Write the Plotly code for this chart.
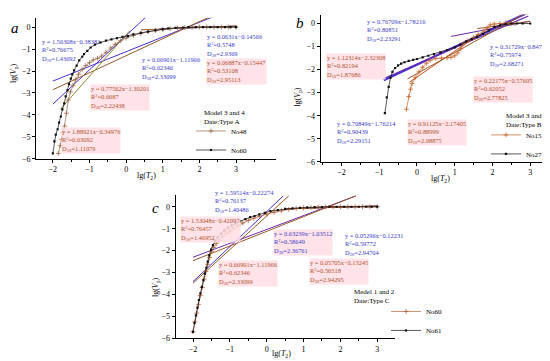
import plotly.graph_objects as go
import numpy as np

W, H = 550, 361
FONT = "Liberation Serif"
BLUE_T = "#3c3cc8"
BROWN_T = "#b0502e"
BLUE_L = "#4b2fd0"
PURPLE_L = "#6a2bb0"
BROWN_L = "#9a5a2a"
PINK_BG = "rgba(255,222,228,0.85)"
LBL_SIZE = 6.4

# ---------------- Panel a data ----------------
a_no60_x = [-2.0, -1.96, -1.92, -1.87, -1.83, -1.78, -1.74, -1.69, -1.65, -1.6, -1.56, -1.51, -1.47, -1.42, -1.35,
            -1.28, -1.2, -1.15, -1.06, -0.97, -0.85, -0.7, -0.55, -0.4, -0.25, -0.1, 0.05, 0.2, 0.4, 0.6, 0.8,
            1.0, 1.15, 1.35, 1.55, 1.7, 1.9, 2.1, 2.3, 2.5, 2.7, 2.85, 3.0]
a_no60_y = [-5.75, -5.2, -4.9, -4.65, -4.35, -4.07, -3.75, -3.47, -3.15, -2.87, -2.6, -2.35, -2.15, -1.97, -1.75,
            -1.52, -1.35, -1.23, -1.08, -0.93, -0.8, -0.7, -0.62, -0.56, -0.5, -0.45, -0.41, -0.33, -0.26, -0.21, -0.15,
            -0.1, -0.06, -0.04, -0.02, 0.0, 0.0, 0.0, 0.0, 0.0, 0.0, 0.0, 0.0]
a_no48_x = [-1.85, -1.8, -1.76, -1.72, -1.68, -1.63, -1.58, -1.52, -1.45, -1.38, -1.3, -1.2, -1.1, -1.0, -0.9,
            -0.78, -0.67, -0.55, -0.42, -0.3, -0.15, 0.0, 0.2, 0.4, 0.6, 0.8, 1.0, 1.2, 1.4, 1.6, 1.8, 2.0,
            2.2, 2.4, 2.6, 2.8, 3.0]
a_no48_y = [-5.75, -5.4, -5.11, -4.8, -4.51, -3.92, -3.32, -2.95, -2.65, -2.4, -2.15, -1.92, -1.75, -1.62, -1.5,
            -1.42, -1.32, -1.15, -0.95, -0.78, -0.62, -0.5, -0.38, -0.29, -0.21, -0.15, -0.1, -0.07, -0.04, -0.02, 0.0, 0.0,
            0.0, 0.0, 0.0, 0.0, 0.0]

# fits: (slope, intercept, x_start, x_end, colour)
a_fits = [
    (1.56308, -0.38381, -2.0, 0.6, BLUE_L),
    (0.66901, -1.11966, -2.0, 2.42, BLUE_L),
    (0.0631, -0.14566, 0.9, 3.0, BLUE_L),
    (0.77562, -1.30201, -2.0, 2.25, BROWN_L),
    (1.88921, -0.34976, -1.8, 0.1, "#8a8a3a"),
    (0.06887, -0.15447, 0.4, 3.0, BROWN_L),
]
a_labels = [
    ("y = 1.56308x−0.38381", "0.76675", "1S", "1.43692", BLUE_T, None, 33, 29),
    ("y = 0.0631x−0.14566", "0.5748", "2S", "2.9369", BLUE_T, None, 198, 24),
    ("y = 0.66901x−1.11966", "0.62346", "3S", "2.33099", BLUE_T, None, 133, 48),
    ("y = 0.06887x−0.15447", "0.53108", "2S", "2.95113", BROWN_T, PINK_BG, 198, 51),
    ("y = 0.77562x−1.30201", "0.6687", "3S", "2.22438", BROWN_T, PINK_BG, 82, 77),
    ("y = 1.88921x−0.34976", "0.63092", "1S", "1.11079", BROWN_T, PINK_BG, 53, 121),
]

# ---------------- Panel b data ----------------
b_no27_x = [-0.85, -0.8, -0.75, -0.7, -0.65, -0.58, -0.5, -0.42, -0.33, -0.22, -0.1, 0.0, 0.15, 0.3, 0.45, 0.62,
            0.8, 1.0, 1.15, 1.3, 1.45, 1.6, 1.75, 1.9, 2.05, 2.2, 2.35, 2.5, 2.65, 2.8, 3.0]
b_no27_y = [-3.89, -3.2, -2.75, -2.35, -2.1, -1.93, -1.82, -1.74, -1.68, -1.62, -1.58, -1.54, -1.47, -1.4, -1.33, -1.25,
            -1.15, -1.04, -0.92, -0.78, -0.68, -0.58, -0.45, -0.3, -0.15, -0.08, -0.03, 0.0, 0.0, 0.0, 0.0]
b_no15_x = [-0.28, -0.22, -0.17, -0.13, -0.05, 0.05, 0.15, 0.25, 0.35, 0.5, 0.65, 0.8, 0.9, 1.0, 1.08, 1.16,
            1.24, 1.35, 1.5, 1.62, 1.77, 1.86, 1.94, 2.05, 2.2, 2.35, 2.5, 2.6]
b_no15_y = [-3.72, -3.17, -2.85, -2.6, -2.35, -2.1, -1.9, -1.72, -1.6, -1.52, -1.5, -1.49, -1.47, -1.4, -1.28, -1.1,
            -0.87, -0.75, -0.61, -0.48, -0.33, -0.2, -0.06, -0.02, 0.0, 0.03, 0.02, 0.0]
b_fits = [
    (0.76709, -1.78216, -0.88, 2.95, BLUE_L, 2.2),
    (0.70849, -1.76214, -0.88, 2.95, PURPLE_L, 1.2),
    (0.31729, -0.8476, 0.9, 3.0, PURPLE_L, 1.0),
    (1.12314, -2.32308, -0.2, 1.5, "#c0501f", 1.0),
    (0.91125, -2.17405, -0.25, 2.95, BROWN_L, 1.0),
    (0.22175, -0.57605, 1.6, 3.0, BROWN_L, 1.0),
]
b_labels = [
    ("y = 0.76709x−1.78216", "0.80851", "1S", "2.23291", BLUE_T, None, 358, 9),
    ("y = 1.12314x−2.32308", "0.82194", "1S", "1.87686", BROWN_T, PINK_BG, 318, 46),
    ("y = 0.31729x−0.8476", "0.75974", "2S", "2.68271", BLUE_T, None, 481, 34),
    ("y = 0.22175x−0.57605", "0.62052", "2S", "2.77825", BROWN_T, PINK_BG, 465, 69),
    ("y = 0.70849x−1.76214", "0.90439", "1S", "2.29151", BLUE_T, None, 328, 113),
    ("y = 0.91125x−2.17405", "0.88999", "1S", "2.08875", BROWN_T, PINK_BG, 399, 113),
]

# ---------------- Panel c data ----------------
c_no61_x = [-2.0, -1.96, -1.92, -1.88, -1.84, -1.8, -1.76, -1.72, -1.68, -1.64, -1.6, -1.56, -1.51, -1.46, -1.4,
            -1.33, -1.24, -1.15, -1.05, -0.95, -0.85, -0.72, -0.58, -0.45, -0.33, -0.2, -0.05, 0.1, 0.3, 0.5, 0.7,
            0.9, 1.1, 1.3, 1.5, 1.7, 1.9, 2.1, 2.3, 2.5, 2.7, 2.85, 3.0]
c_no61_y = [-5.7, -5.3, -4.95, -4.6, -4.25, -3.95, -3.65, -3.35, -3.05, -2.78, -2.5, -2.22, -1.95, -1.75, -1.55,
            -1.38, -1.22, -1.08, -0.95, -0.85, -0.76, -0.66, -0.56, -0.47, -0.42, -0.35, -0.28, -0.2, -0.15, -0.1, -0.07,
            -0.05, -0.03, -0.02, -0.01, 0.0, 0.0, 0.0, 0.0, 0.0, 0.0, 0.0, 0.0]
c_no60_x = [-2.0, -1.95, -1.9, -1.85, -1.8, -1.75, -1.7, -1.65, -1.6, -1.55, -1.5, -1.44, -1.37, -1.3, -1.2,
            -1.1, -1.0, -0.9, -0.78, -0.65, -0.5, -0.35, -0.2, 0.0, 0.2, 0.4, 0.6, 0.8, 1.0, 1.2, 1.4, 1.6,
            1.8, 2.0, 2.2, 2.4, 2.6, 2.8, 3.0]
c_no60_y = [-5.7, -5.25, -4.85, -4.45, -4.05, -3.68, -3.3, -2.95, -2.62, -2.32, -2.05, -1.85, -1.68, -1.52, -1.36,
            -1.22, -1.1, -0.98, -0.86, -0.74, -0.62, -0.52, -0.43, -0.34, -0.25, -0.18, -0.12, -0.08, -0.05, -0.03, -0.02, -0.01,
            0.0, 0.0, 0.0, 0.0, 0.0, 0.0, 0.0]
c_fits = [
    (1.59514, -0.22274, -2.0, 0.45, BLUE_L),
    (1.53048, -0.42097, -2.0, 0.6, BROWN_L),
    (0.63239, -1.03512, -2.0, 2.42, PURPLE_L),
    (0.66901, -1.11966, -2.0, 2.42, BROWN_L),
    (0.05296, -0.12231, 0.5, 3.0, PURPLE_L),
    (0.05705, -0.13245, 0.5, 3.0, BROWN_L),
]
c_labels = [
    ("y = 1.59514x−0.22274", "0.76137", "1S", "1.40486", BLUE_T, None, 206, 183),
    ("y = 1.53048x−0.42097", "0.76457", "1S", "1.46952", BROWN_T, PINK_BG, 172, 211),
    ("y = 0.63239x−1.03512", "0.58649", "3S", "2.36761", BLUE_T, PINK_BG, 265, 224),
    ("y = 0.05296x−0.12231", "0.59772", "2S", "2.94704", BLUE_T, None, 336, 226),
    ("y = 0.66901x−1.11966", "0.62346", "3S", "2.33099", BROWN_T, PINK_BG, 210, 256),
    ("y = 0.05705x−0.13245", "0.56518", "2S", "2.94295", BROWN_T, PINK_BG, 301, 254),
]

x_ticks = [-2, -1, 0, 1, 2, 3]
y_ticks = [-6, -5, -4, -3, -2, -1, 0]

panels = [
    dict(xa="x", ya="y", dom_x=(28, 268), dom_y=(10, 153), xr=[-2.46, 4.09], yr=[-6, 0.42],
         letter="a", letter_pos=(7, 20), ytitle_pos=(6, 66), xtitle_pos=(138, 170), legend="legend",
         legend_title="Model 3 and 4<br>Date:Type A", title_pos=(195, 101), legend_pos=(183, 110),
         series=[("No48", a_no48_x, a_no48_y, "#9a6a4a", "cross-thin", 3.5), ("No60", a_no60_x, a_no60_y, "#111111", "square", 2.2)],
         fits=a_fits, labels=a_labels),
    dict(xa="x2", ya="y2", dom_x=(312.7, 543), dom_y=(6.7, 156), xr=[-2.55, 3.55], yr=[-6, 0.385],
         letter="b", letter_pos=(292, 15), ytitle_pos=(290, 90), xtitle_pos=(432, 173), legend="legend2",
         legend_title="Model 3 and 4<br>Date:Type B", title_pos=(497, 104), legend_pos=(478, 114),
         series=[("No15", b_no15_x, b_no15_y, "#c8642a", "cross-thin", 3.5), ("No27", b_no27_x, b_no27_y, "#111111", "square", 2.2)],
         fits=b_fits, labels=b_labels),
    dict(xa="x3", ya="y3", dom_x=(167.7, 387.3), dom_y=(190, 335), xr=[-2.47, 3.49], yr=[-6, 0.52],
         letter="c", letter_pos=(147, 203), ytitle_pos=(148, 283), xtitle_pos=(273, 351), legend="legend3",
         legend_title="Medel 1 and 2<br>Date:Type C", title_pos=(345, 283), legend_pos=(378, 293),
         series=[("No60", c_no60_x, c_no60_y, "#b0603a", "cross-thin", 3.5), ("No61", c_no61_x, c_no61_y, "#111111", "square", 2.2)],
         fits=c_fits, labels=c_labels),
]


def px2paper(px, py):
    return px / W, 1 - py / H


fig = go.Figure()
annotations = []
layout = {}

for i, p in enumerate(panels):
    # fitting lines
    for f in p["fits"]:
        slope, icpt, x0, x1, col = f[:5]
        lw = f[5] if len(f) > 5 else 1.0
        xs = np.array([x0, x1])
        fig.add_trace(go.Scatter(x=xs, y=slope * xs + icpt, mode="lines", xaxis=p["xa"], yaxis=p["ya"],
                                 line=dict(color=col, width=lw), showlegend=False, hoverinfo="skip"))
    # data curves
    for name, xs, ys, col, sym, msz in p["series"]:
        fig.add_trace(go.Scatter(x=xs, y=ys, mode="lines+markers", name=name, xaxis=p["xa"], yaxis=p["ya"],
                                 line=dict(color=col, width=0.7),
                                 marker=dict(color=col, size=msz, symbol=sym,
                                             line=dict(color=col, width=0.8 if sym == "cross-thin" else 0)),
                                 legend=p["legend"]))
    sfx = "" if i == 0 else str(i + 1)
    dx0, dy1 = px2paper(p["dom_x"][0], p["dom_y"][0])
    dx1, dy0 = px2paper(p["dom_x"][1], p["dom_y"][1])
    axis_common = dict(showline=True, linecolor="black", linewidth=1, ticks="outside", ticklen=3,
                       tickcolor="black", showgrid=False, zeroline=False,
                       tickfont=dict(family=FONT, size=8, color="black"))
    layout["xaxis" + sfx] = dict(domain=[dx0, dx1], range=p["xr"], anchor="y" + sfx, tickvals=x_ticks,
                                 ticktext=[str(v).replace("-", "−") for v in x_ticks],
                                 minor=dict(ticks="outside", ticklen=2, tickvals=[-2.5, -1.5, -0.5, 0.5, 1.5, 2.5, 3.5],
                                            tickcolor="black"),
                                 **axis_common)
    layout["yaxis" + sfx] = dict(domain=[dy0, dy1], range=p["yr"], anchor="x" + sfx, tickvals=y_ticks,
                                 ticktext=[str(v).replace("-", "−") for v in y_ticks],
                                 **axis_common)
    lx, ly = px2paper(*p["legend_pos"])
    layout[p["legend"]] = dict(x=lx, y=ly, xanchor="left", yanchor="top", bgcolor="rgba(0,0,0,0)",
                               font=dict(family=FONT, size=7, color="black"),
                               itemwidth=30, tracegroupgap=0, borderwidth=0)
    # legend heading
    x, y = px2paper(*p["title_pos"])
    annotations.append(dict(x=x, y=y, xref="paper", yref="paper", text=p["legend_title"], showarrow=False,
                            align="left", xanchor="left", yanchor="top", borderpad=0,
                            font=dict(family=FONT, size=7, color="black")))
    # panel letter
    x, y = px2paper(*p["letter_pos"])
    annotations.append(dict(x=x, y=y, xref="paper", yref="paper", text="<i>" + p["letter"] + "</i>",
                            showarrow=False, xanchor="center", yanchor="middle",
                            font=dict(family=FONT, size=15, color="black")))
    # axis titles
    x, y = px2paper(*p["ytitle_pos"])
    annotations.append(dict(x=x, y=y, xref="paper", yref="paper", text="lg(<i>V</i><sub>p</sub>)",
                            showarrow=False, textangle=-90, xanchor="center", yanchor="middle",
                            font=dict(family=FONT, size=8, color="black")))
    x, y = px2paper(*p["xtitle_pos"])
    annotations.append(dict(x=x, y=y, xref="paper", yref="paper", text="lg(<i>T</i><sub>2</sub>)",
                            showarrow=False, xanchor="center", yanchor="middle",
                            font=dict(family=FONT, size=8, color="black")))
    # fit labels
    for eq, r2, ds, dval, col, bg, lpx, lpy in p["labels"]:
        x, y = px2paper(lpx, lpy)
        txt = f"{eq}<br>R<sup>2</sup>=" + r2 + f"<br>D<sub>{ds}</sub>=" + dval
        ann = dict(x=x, y=y, xref="paper", yref="paper", text=txt, showarrow=False, align="left",
                   xanchor="left", yanchor="top", borderpad=0,
                   font=dict(family=FONT, size=LBL_SIZE, color=col))
        if bg:
            ann["bgcolor"] = bg
        annotations.append(ann)

fig.update_layout(width=W, height=H, margin=dict(l=0, r=0, t=0, b=0), paper_bgcolor="white",
                  plot_bgcolor="white", annotations=annotations, **layout)
fig.write_html("out.html")
